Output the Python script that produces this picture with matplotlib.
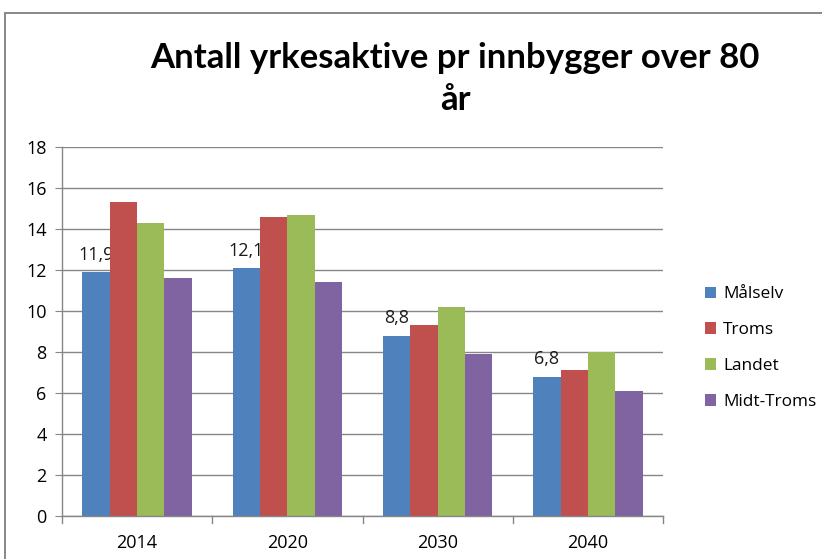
import numpy as np
import matplotlib
matplotlib.use("Agg")
import matplotlib.pyplot as plt
from matplotlib.patches import Rectangle

# ── Data ─────────────────────────────────────────────────────────
years = ["2014", "2020", "2030", "2040"]
series_names = ["Målselv", "Troms", "Landet", "Midt-Troms"]
malselv = [11.9, 12.1, 8.8, 6.8]
troms = [15.3, 14.6, 9.3, 7.1]
landet = [14.3, 14.7, 10.2, 8.0]
midt_troms = [11.6, 11.4, 7.9, 6.1]
yticks = [0, 2, 4, 6, 8, 10, 12, 14, 16, 18]

colors = ["#4F81BD", "#C0504D", "#9BBB59", "#8064A2"]
grid_col = "#868686"
font = ["Open Sans", "DejaVu Sans"]

fig = plt.figure(figsize=(8.22, 5.59), dpi=100)
W, H = 822, 559

# outer chart frame (cut off at the right and bottom edge)
fig.patches.append(Rectangle((5 / W, -0.05), 1.1, (H - 13) / H + 0.05,
                             transform=fig.transFigure, fill=False,
                             edgecolor="#7F7F7F", linewidth=1.3))

ax = fig.add_axes([62 / W, (H - 516) / H, (663 - 62) / W, (516 - 147) / H])

x = np.arange(len(years))
n = len(series_names)
bw = 1 / (n + 1.5)
all_vals = [malselv, troms, landet, midt_troms]
for i, (name, vals) in enumerate(zip(series_names, all_vals)):
    offs = (i - (n - 1) / 2) * bw
    bars = ax.bar(x + offs, vals, bw, color=colors[i], label=name, zorder=3)
    if i == 0:
        for b, v in zip(bars, vals):
            ax.annotate(f"{v:.1f}".replace(".", ","),
                        (b.get_x() + b.get_width() / 2, v),
                        xytext=(0, 6), textcoords="offset points",
                        ha="center", va="bottom", fontsize=13,
                        family=font, color="#1A1A1A")

ax.set_xlim(-0.5, len(years) - 0.5)
ax.set_ylim(0, 18)
ax.set_yticks(yticks)
ax.set_yticklabels([str(t) for t in yticks], family=font, fontsize=13)
ax.set_xticks(x)
ax.set_xticklabels(years, family=font, fontsize=13)
ax.tick_params(axis="x", length=0, pad=13)
ax.tick_params(axis="y", length=5, color=grid_col, pad=6)

# category separator ticks on the x axis
for b in np.arange(-0.5, len(years), 1.0):
    ax.plot([b, b], [0, -0.35], color=grid_col, linewidth=1,
            clip_on=False, zorder=4)

ax.grid(axis="y", color=grid_col, linewidth=1, zorder=0)
for s in ["top", "right"]:
    ax.spines[s].set_visible(False)
for s in ["left", "bottom"]:
    ax.spines[s].set_color(grid_col)
    ax.spines[s].set_linewidth(1)
    ax.spines[s].set_zorder(4)

fig.text(455 / W, (H - 79) / H, "Antall yrkesaktive pr innbygger over 80\når",
         ha="center", va="center", fontsize=25, fontweight="bold",
         family=["Lato", "DejaVu Sans"], linespacing=1.4)

leg = ax.legend(loc="upper left", bbox_to_anchor=(689 / W, (H - 271) / H),
                bbox_transform=fig.transFigure, frameon=False,
                prop={"family": font, "size": 12.4}, handlelength=0.68,
                handleheight=0.68, handletextpad=0.4, labelspacing=1.15)

fig.savefig("out.png", dpi=100)
